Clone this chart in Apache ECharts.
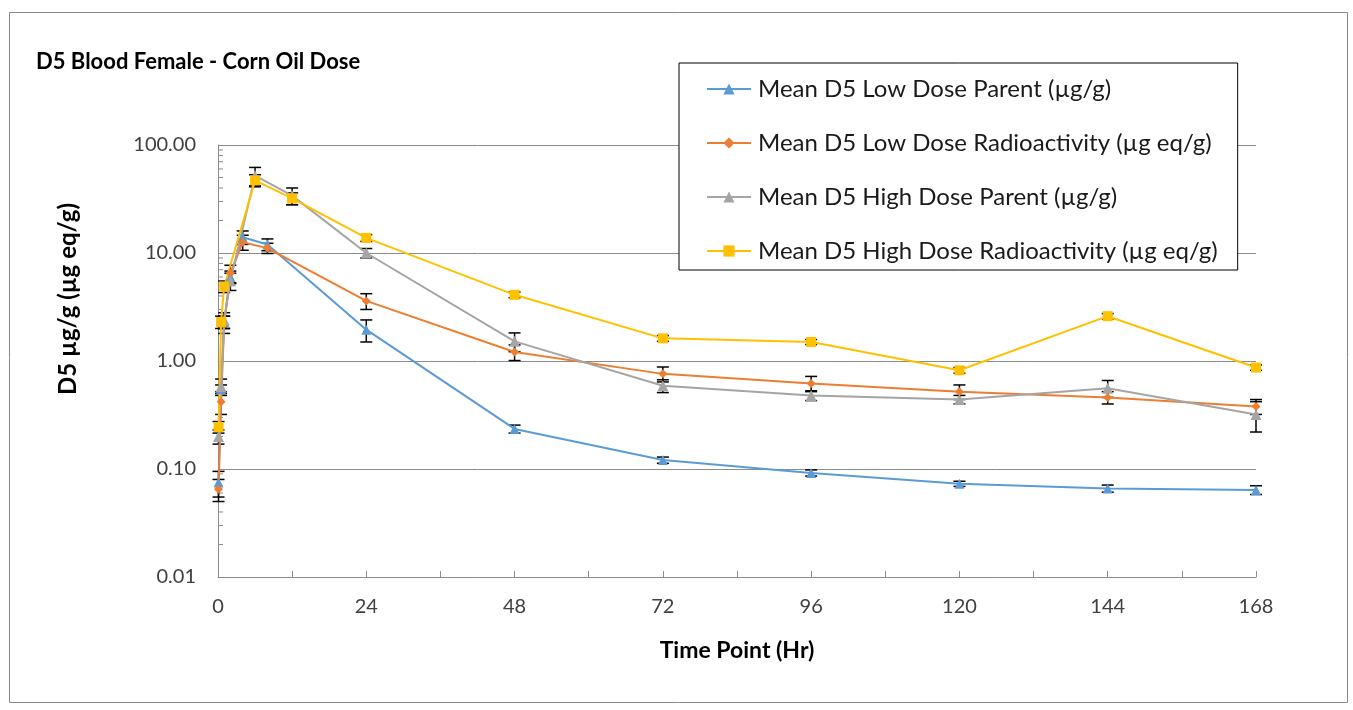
<!DOCTYPE html>
<html>
<head>
<meta charset="utf-8">
<script src="https://cdn.jsdelivr.net/npm/echarts@6/dist/echarts.min.js"></script>
<style>
html,body{margin:0;padding:0;background:#fff;}
#chart{width:1353px;height:710px;}
</style>
</head>
<body>
<div id="chart"></div>
<script>
// ---- Data ----
const seriesNames = [
  'Mean D5 Low Dose Parent (µg/g)',
  'Mean D5 Low Dose Radioactivity (µg eq/g)',
  'Mean D5 High Dose Parent (µg/g)',
  'Mean D5 High Dose Radioactivity (µg eq/g)'
];
const xTicks = [0, 24, 48, 72, 96, 120, 144, 168];
const yTicks = [0.01, 0.1, 1, 10, 100];

const lowParentT    = [0.083, 0.5, 1, 2, 4, 8, 24, 48, 72, 96, 120, 144, 168];
const lowParentMean = [0.075, 0.55, 2.3, 6.0, 14.0, 12.0, 1.95, 0.235, 0.121, 0.092, 0.073, 0.066, 0.064];
const lowParentSD   = [0.02, 0.05, 0.3, 0.8, 2.0, 1.5, 0.45, 0.02, 0.008, 0.006, 0.004, 0.005, 0.006];

const lowRadT    = [0.083, 0.5, 1, 2, 4, 8, 24, 48, 72, 96, 120, 144, 168];
const lowRadMean = [0.065, 0.42, 2.2, 6.5, 12.6, 11.1, 3.6, 1.21, 0.76, 0.62, 0.52, 0.46, 0.38];
const lowRadSD   = [0.015, 0.1, 0.4, 1.2, 2.0, 1.2, 0.6, 0.2, 0.12, 0.1, 0.08, 0.06, 0.06];

const highParentT    = [0.083, 0.5, 1, 2, 6, 12, 24, 48, 72, 96, 120, 144, 168];
const highParentMean = [0.2, 0.58, 2.4, 5.5, 52, 34, 10.0, 1.52, 0.59, 0.48, 0.44, 0.56, 0.32];
const highParentSD   = [0.03, 0.1, 0.4, 1.0, 10, 6, 1.0, 0.3, 0.08, 0.05, 0.04, 0.1, 0.1];

const highRadT    = [0.083, 0.5, 1, 6, 12, 24, 48, 72, 96, 120, 144, 168];
const highRadMean = [0.245, 2.3, 4.9, 47, 32, 13.8, 4.1, 1.62, 1.5, 0.82, 2.6, 0.87];
const highRadSD   = [0.03, 0.3, 0.6, 6, 4, 1.0, 0.25, 0.1, 0.08, 0.05, 0.15, 0.05];

const yMinorTicks = [];
[0.01, 0.1, 1, 10].forEach(d => { for (let k = 2; k <= 9; k++) yMinorTicks.push(+(d * k).toPrecision(3)); });

const colors = ['#5B9BD5', '#ED7D31', '#A5A5A5', '#FFC000'];
const symbols = ['triangle', 'diamond', 'triangle', 'rect'];
const symbolSizes = [10, 9, 11, 10];

const groups = [
  [lowParentT, lowParentMean, lowParentSD],
  [lowRadT, lowRadMean, lowRadSD],
  [highParentT, highParentMean, highParentSD],
  [highRadT, highRadMean, highRadSD]
];

const FONT = 'Lato, "Open Sans", sans-serif';

function errRender(params, api) {
  const x = api.value(0), lo = api.value(1), hi = api.value(2);
  const p1 = api.coord([x, hi]);
  const p2 = api.coord([x, lo]);
  const hw = 6;
  const st = { stroke: '#000', lineWidth: 1.5 };
  return {
    type: 'group',
    children: [
      { type: 'line', shape: { x1: p1[0], y1: p1[1], x2: p2[0], y2: p2[1] }, style: st },
      { type: 'line', shape: { x1: p1[0] - hw, y1: p1[1], x2: p1[0] + hw, y2: p1[1] }, style: st },
      { type: 'line', shape: { x1: p2[0] - hw, y1: p2[1], x2: p2[0] + hw, y2: p2[1] }, style: st }
    ]
  };
}

const series = [];
groups.forEach((g, i) => {
  const [T, M, S] = g;
  series.push({
    name: seriesNames[i] + ' err',
    type: 'custom',
    silent: true,
    z: 3,
    renderItem: errRender,
    encode: { x: 0, y: [1, 2] },
    data: T.map((t, j) => [t, Math.max(M[j] - S[j], 0.0105), M[j] + S[j]])
  });
});
groups.forEach((g, i) => {
  const [T, M] = g;
  series.push({
    name: seriesNames[i],
    type: 'line',
    z: 4,
    color: colors[i],
    symbol: symbols[i],
    symbolSize: symbolSizes[i],
    showAllSymbol: true,
    lineStyle: { width: 2, color: colors[i] },
    itemStyle: { color: colors[i] },
    data: T.map((t, j) => [t, M[j]])
  });
});
// y-axis log minor ticks (2..9 of each decade)
series.push({
  name: 'yminor',
  type: 'custom',
  silent: true,
  renderItem: function (params, api) {
    const p = api.coord([0, api.value(1)]);
    return { type: 'line', shape: { x1: p[0], y1: p[1], x2: p[0] + 5, y2: p[1] }, style: { stroke: '#8c8c8c', lineWidth: 1 } };
  },
  data: yMinorTicks.map(v => [0, v])
});

const chart = echarts.init(document.getElementById('chart'), null, { renderer: 'canvas' });
chart.setOption({
  animation: false,
  backgroundColor: '#fff',
  graphic: [{
    type: 'rect', left: 7, top: 10, shape: { width: 1338, height: 690 },
    style: { fill: 'none', stroke: '#8a8a8a', lineWidth: 1 }, silent: true, z: -1
  }, {
    type: 'text', x: 68, y: 299, rotation: Math.PI / 2, silent: true,
    style: {
      text: 'D5 µg/g (µg eq/g)', align: 'center', verticalAlign: 'middle',
      font: 'bold 24px Lato, "Open Sans", sans-serif', fill: '#000'
    }
  }],
  title: {
    text: 'D5 Blood Female - Corn Oil Dose',
    left: 31, top: 46,
    textStyle: { fontFamily: FONT, fontSize: 22, fontWeight: 'bold', color: '#000' }
  },
  legend: {
    data: seriesNames,
    orient: 'vertical',
    left: 679, top: 63,
    padding: [14, 20, 7, 27],
    itemGap: 30,
    itemWidth: 44, itemHeight: 14,
    backgroundColor: '#fff',
    borderColor: '#000', borderWidth: 1,
    z: 10,
    textStyle: { fontFamily: FONT, fontSize: 24, color: '#1a1a1a', padding: [0, 0, 0, 2] }
  },
  grid: { left: 218, right: 97, top: 145, bottom: 133, containLabel: false },
  xAxis: {
    type: 'value', min: 0, max: 168, interval: 24,
    name: 'Time Point (Hr)', nameLocation: 'middle', nameGap: 62,
    nameTextStyle: { fontFamily: FONT, fontSize: 23, fontWeight: 'bold', color: '#000' },
    axisLine: { show: true, onZero: false, lineStyle: { color: '#8c8c8c', width: 1 } },
    axisTick: { show: true, inside: true, length: 6, lineStyle: { color: '#8c8c8c' } },
    minorTick: { show: true, splitNumber: 2, length: 6, lineStyle: { color: '#8c8c8c' } },
    splitLine: { show: false },
    axisLabel: { fontFamily: FONT, fontSize: 20, color: '#404040', margin: 20 }
  },
  yAxis: {
    type: 'log', logBase: 10, min: 0.01, max: 100,
    axisLine: { show: true, lineStyle: { color: '#8c8c8c', width: 1 } },
    axisTick: { show: false },
    splitLine: { show: true, lineStyle: { color: '#8c8c8c', width: 1 } },
    axisLabel: {
      fontFamily: FONT, fontSize: 20, color: '#404040', margin: 22,
      formatter: v => Number(v).toFixed(2)
    }
  },
  series: series
});
</script>
</body>
</html>
